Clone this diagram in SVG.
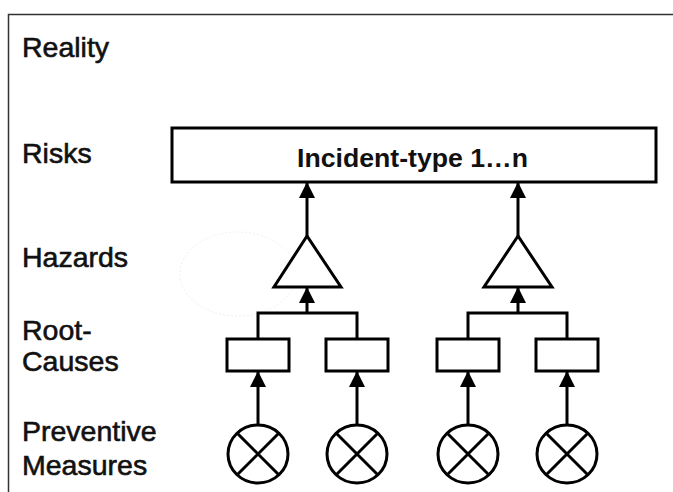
<svg xmlns="http://www.w3.org/2000/svg" width="673" height="492" viewBox="0 0 673 492">
<defs>
<marker id="ah" markerUnits="userSpaceOnUse" markerWidth="17" markerHeight="16" viewBox="0 0 16 16" refX="15" refY="8" orient="auto">
<path d="M0,0 L16,8 L0,16 Z" fill="#000"/>
</marker>
<style>
.lbl{font-family:"Liberation Sans",Arial,sans-serif;font-size:28.5px;fill:#111;stroke:#111;stroke-width:0.6}
.ln{fill:none;stroke:#000;stroke-width:3}
.arr{fill:none;stroke:#000;stroke-width:3;marker-end:url(#ah)}
.box{fill:#fff;stroke:#000;stroke-width:3}
</style>
</defs>
<rect width="673" height="492" fill="#fff"/>
<path d="M673,14.5 H8.5 V492" fill="none" stroke="#333" stroke-width="1.5"/>
<ellipse cx="238" cy="274" rx="58" ry="42" fill="none" stroke="#f0f0f0" stroke-width="1" stroke-dasharray="2 2"/>
<g id="labels">
<text class="lbl" x="22" y="57">Reality</text>
<text class="lbl" x="22" y="163">Risks</text>
<text class="lbl" x="22" y="267">Hazards</text>
<text class="lbl" x="22" y="340">Root-</text>
<text class="lbl" x="22" y="371">Causes</text>
<text class="lbl" x="22" y="441">Preventive</text>
<text class="lbl" x="22" y="475">Measures</text>
</g>
<g id="connectors">
<path class="arr" d="M307,236 V183"/>
<path class="arr" d="M518,236 V183"/>
<path class="ln" d="M258,339 V313 H357 V339"/>
<path class="arr" d="M307,313 V288"/>
<path class="ln" d="M468,339 V313 H567 V339"/>
<path class="arr" d="M518,313 V288"/>
<path class="arr" d="M258,425 V372"/>
<path class="arr" d="M357,425 V372"/>
<path class="arr" d="M468,425 V372"/>
<path class="arr" d="M567,425 V372"/>
</g>
<g id="risk">
<rect class="box" x="172" y="128" width="484" height="54"/>
<text x="297" y="167" textLength="231" lengthAdjust="spacingAndGlyphs" font-family="'Liberation Sans',Arial,sans-serif" font-size="26" font-weight="bold" fill="#111">Incident-type 1…n</text>
</g>
<g id="hazard1"><polygon class="box" points="307,236 274,287 341,287"/></g>
<g id="hazard2"><polygon class="box" points="518,236 484,287 552,287"/></g>
<g id="cause1"><rect class="box" x="227" y="339" width="62" height="32"/></g>
<g id="cause2"><rect class="box" x="326" y="339" width="62" height="32"/></g>
<g id="cause3"><rect class="box" x="437" y="339" width="62" height="32"/></g>
<g id="cause4"><rect class="box" x="536" y="339" width="62" height="32"/></g>
<g id="measure1"><ellipse class="box" cx="258" cy="454" rx="30" ry="29"/><path class="ln" d="M237,433 L279,475 M279,433 L237,475" stroke-width="2.5"/></g>
<g id="measure2"><ellipse class="box" cx="357" cy="454" rx="30" ry="29"/><path class="ln" d="M336,433 L378,475 M378,433 L336,475" stroke-width="2.5"/></g>
<g id="measure3"><ellipse class="box" cx="468" cy="454" rx="30" ry="29"/><path class="ln" d="M447,433 L489,475 M489,433 L447,475" stroke-width="2.5"/></g>
<g id="measure4"><ellipse class="box" cx="567" cy="454" rx="30" ry="29"/><path class="ln" d="M546,433 L588,475 M588,433 L546,475" stroke-width="2.5"/></g>
</svg>
